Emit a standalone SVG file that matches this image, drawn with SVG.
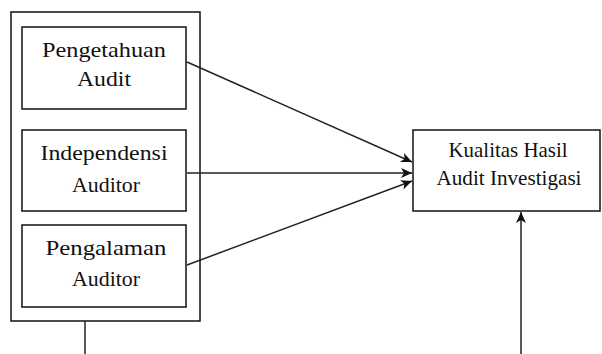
<svg xmlns="http://www.w3.org/2000/svg" width="602" height="354" viewBox="0 0 602 354">
<style>
.box{fill:#fff;stroke:#111;stroke-width:1.5}
.t{font-family:'Liberation Serif','Times New Roman',serif;font-size:21px;fill:#111;text-anchor:middle}
.c{stroke:#222;stroke-width:1.5;fill:none}
</style>
<defs>
<marker id="ah" markerWidth="12" markerHeight="10" refX="11" refY="5" orient="auto" markerUnits="userSpaceOnUse">
<path d="M0,0 L11,5 L0,10 L3,5 Z" fill="#111"/>
</marker>
</defs>
<rect width="602" height="354" fill="#fff"/>
<g id="outer"><rect class="box" x="11" y="12" width="189" height="309"/></g>
<g id="n1"><rect class="box" x="22" y="27" width="164" height="82"/>
<text class="t" x="104" y="57" textLength="124" lengthAdjust="spacingAndGlyphs">Pengetahuan</text>
<text class="t" x="104" y="86" textLength="54" lengthAdjust="spacingAndGlyphs">Audit</text></g>
<g id="n2"><rect class="box" x="22" y="130" width="164" height="81"/>
<text class="t" x="104" y="160" textLength="127" lengthAdjust="spacingAndGlyphs">Independensi</text>
<text class="t" x="106" y="192" textLength="68" lengthAdjust="spacingAndGlyphs">Auditor</text></g>
<g id="n3"><rect class="box" x="22" y="225" width="164" height="82"/>
<text class="t" x="106" y="255" textLength="121" lengthAdjust="spacingAndGlyphs">Pengalaman</text>
<text class="t" x="106" y="286" textLength="68" lengthAdjust="spacingAndGlyphs">Auditor</text></g>
<g id="n4"><rect class="box" x="413" y="130" width="187" height="81"/>
<text class="t" x="508" y="157" textLength="119" lengthAdjust="spacingAndGlyphs">Kualitas Hasil</text>
<text class="t" x="509" y="185" textLength="145" lengthAdjust="spacingAndGlyphs">Audit Investigasi</text></g>
<g id="connectors">
<line class="c" x1="187" y1="62" x2="412" y2="162" marker-end="url(#ah)"/>
<line class="c" x1="187" y1="173" x2="412" y2="173" marker-end="url(#ah)"/>
<line class="c" x1="187" y1="265" x2="412" y2="181" marker-end="url(#ah)"/>
<line class="c" x1="85" y1="321" x2="85" y2="354"/>
<line class="c" x1="521" y1="354" x2="521" y2="212" marker-end="url(#ah)"/>
</g>
</svg>
